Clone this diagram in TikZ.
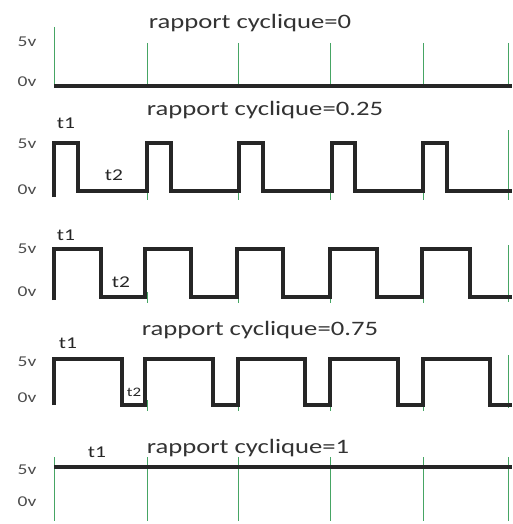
\documentclass[tikz,border=0pt]{standalone}
\usepackage{graphicx}
\usepackage{fontspec}
\setmainfont{Carlito}
\newcommand{\hstr}[1]{\scalebox{1.3}[1]{#1}}
\begin{document}
\begin{tikzpicture}[x=1pt,y=-1pt,
  wave/.style={line width=3.3pt,black!85},
  grid/.style={line width=1pt,color={rgb,255:red,70;green,165;blue,100}},
  title/.style={font=\fontsize{20.5}{22}\selectfont,text=black!80,inner sep=0pt},
  lvl/.style={font=\fontsize{15}{17}\selectfont,text=black!70,inner sep=0pt},
  tlab/.style={font=\fontsize{16.5}{18}\selectfont,text=black!85,inner sep=0pt}]
\useasboundingbox (0,0) rectangle (512,524);
% ---------- row 1 : duty 0
\draw[grid] (54,27) -- (54,86);
\foreach \x in {147,238,330,423,508} \draw[grid] (\x,43) -- (\x,86);
\draw[wave] (54,86) -- (512,86);
\node[title] (ti0) at (250,23) {\hstr{rapport cyclique=0}};
\node[lvl] (h1) at (27,42) {\hstr{5v}};
\node[lvl] (l1) at (27,82) {\hstr{0v}};
% ---------- row 2 : duty 0.25
\foreach \x in {147,238,330,423} \draw[grid] (\x,185) -- (\x,200);
\draw[grid] (508,130) -- (508,200);
\draw[wave] (54,197)--(54,143)--(78,143)--(78,191)--(147,191)--(147,143)--(171,143)--(171,191)--(239,191)--(239,143)--(263,143)--(263,191)--(332,191)--(332,143)--(355,143)--(355,191)--(423,191)--(423,143)--(447,143)--(447,191)--(512,191);
\node[title] (ti25) at (265,110) {\hstr{rapport cyclique=0.25}};
\node[tlab] (a1) at (66,123) {\hstr{t1}};
\node[tlab] (a2) at (114,175) {\hstr{t2}};
\node[lvl] (h2) at (27,144) {\hstr{5v}};
\node[lvl] (l2) at (27,190) {\hstr{0v}};
% ---------- row 3 : duty 0.5
\foreach \x in {147,238,330,423} \draw[grid] (\x,292) -- (\x,303);
\draw[grid] (508,245) -- (508,302);
\draw[wave] (54,300)--(54,249)--(101,249)--(101,297)--(145,297)--(145,249)--(191,249)--(191,297)--(237,297)--(237,249)--(283,249)--(283,297)--(330,297)--(330,249)--(377,249)--(377,297)--(422,297)--(422,249)--(470,249)--(470,297)--(512,297);
\node[tlab] (b1) at (66,235) {\hstr{t1}};
\node[tlab] (b2) at (121,282) {\hstr{t2}};
\node[lvl] (h3) at (27,249) {\hstr{5v}};
\node[lvl] (l3) at (27,292) {\hstr{0v}};
% ---------- row 4 : duty 0.75
\foreach \x in {147,238,330,423} \draw[grid] (\x,400) -- (\x,411);
\draw[grid] (508,355) -- (508,408);
\draw[wave] (54,405)--(54,359)--(122,359)--(122,405)--(145,405)--(145,359)--(213,359)--(213,405)--(238,405)--(238,359)--(305,359)--(305,405)--(330,405)--(330,359)--(398,359)--(398,405)--(423,405)--(423,359)--(490,359)--(490,405)--(512,405);
\node[title] (ti75) at (260,330) {\hstr{rapport cyclique=0.75}};
\node[tlab] (c1) at (68,343) {\hstr{t1}};
\node[tlab,font=\fontsize{13}{15}\selectfont] (c2) at (134,392) {\hstr{t2}};
\node[lvl] (h4) at (27,362) {\hstr{5v}};
\node[lvl] (l4) at (27,398) {\hstr{0v}};
% ---------- row 5 : duty 1
\draw[grid] (54,457) -- (54,521);
\foreach \x in {147,238,330,423,508} \draw[grid] (\x,457) -- (\x,521);
\draw[wave] (54,467) -- (512,467);
\node[title] (ti1) at (248,448) {\hstr{rapport cyclique=1}};
\node[tlab] (d1) at (97,452) {\hstr{t1}};
\node[lvl] (h5) at (27,470) {\hstr{5v}};
\node[lvl] (l5) at (27,502) {\hstr{0v}};
\end{tikzpicture}
\end{document}
